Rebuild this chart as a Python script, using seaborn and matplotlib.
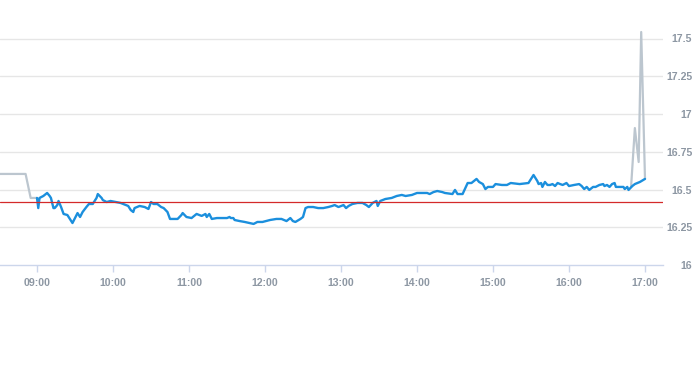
import matplotlib
matplotlib.use("Agg")
import matplotlib.pyplot as plt
import seaborn as sns
import pandas as pd
from matplotlib.ticker import FuncFormatter, FixedLocator

# ---- data ----
price_times = ["09:00", "09:01", "09:02", "09:05", "09:08", "09:10", "09:11", "09:13", "09:14", "09:16",
               "09:17", "09:19", "09:21", "09:24", "09:26", "09:28", "09:30", "09:32", "09:34", "09:36",
               "09:39", "09:41", "09:44", "09:47", "09:48", "09:51", "09:52", "09:55", "09:58", "10:06",
               "10:12", "10:14", "10:16", "10:17", "10:21", "10:25", "10:28", "10:30", "10:32", "10:35",
               "10:38", "10:40", "10:43", "10:45", "10:51", "10:54", "10:55", "10:58", "11:02", "11:06",
               "11:10", "11:13", "11:14", "11:16", "11:18", "11:22", "11:24", "11:30", "11:32", "11:33",
               "11:35", "11:36", "11:40", "11:44", "11:48", "11:51", "11:54", "11:58", "12:04", "12:09",
               "12:13", "12:17", "12:20", "12:22", "12:24", "12:28", "12:30", "12:32", "12:34", "12:38",
               "12:42", "12:46", "12:50", "12:53", "12:55", "12:58", "13:02", "13:04", "13:06", "13:09",
               "13:13", "13:17", "13:20", "13:22", "13:25", "13:28", "13:29", "13:31", "13:35", "13:40",
               "13:44", "13:48", "13:51", "13:56", "14:00", "14:05", "14:08", "14:10", "14:13", "14:16",
               "14:20", "14:22", "14:28", "14:30", "14:32", "14:36", "14:40", "14:43", "14:47", "14:49",
               "14:52", "14:54", "14:56", "15:00", "15:02", "15:07", "15:11", "15:14", "15:21", "15:28",
               "15:32", "15:33", "15:35", "15:36", "15:38", "15:39", "15:41", "15:43", "15:45", "15:47",
               "15:49", "15:51", "15:53", "15:55", "15:58", "16:00", "16:04", "16:08", "16:10", "16:12",
               "16:14", "16:16", "16:19", "16:21", "16:24", "16:27", "16:28", "16:30", "16:32", "16:34",
               "16:36", "16:37", "16:39", "16:43", "16:44", "16:46", "16:47", "16:50", "16:52", "16:56",
               "17:00"]
price_values = [16.444, 16.377, 16.444, 16.457, 16.477, 16.457, 16.444, 16.377, 16.377, 16.397,
                16.424, 16.384, 16.338, 16.331, 16.305, 16.278, 16.311, 16.344, 16.318, 16.351,
                16.384, 16.404, 16.404, 16.444, 16.470, 16.444, 16.430, 16.417, 16.424, 16.411,
                16.391, 16.364, 16.351, 16.377, 16.391, 16.384, 16.371, 16.417, 16.404, 16.404,
                16.384, 16.377, 16.351, 16.305, 16.305, 16.331, 16.344, 16.318, 16.311, 16.338,
                16.325, 16.338, 16.318, 16.338, 16.305, 16.311, 16.311, 16.311, 16.318, 16.311,
                16.311, 16.298, 16.291, 16.285, 16.278, 16.272, 16.285, 16.285, 16.298, 16.305,
                16.305, 16.291, 16.311, 16.291, 16.285, 16.305, 16.318, 16.377, 16.384, 16.384,
                16.377, 16.377, 16.384, 16.391, 16.397, 16.384, 16.397, 16.377, 16.391, 16.404,
                16.411, 16.411, 16.397, 16.384, 16.411, 16.424, 16.391, 16.424, 16.437, 16.444,
                16.457, 16.464, 16.457, 16.464, 16.477, 16.477, 16.477, 16.470, 16.483, 16.490,
                16.483, 16.477, 16.470, 16.497, 16.470, 16.470, 16.543, 16.543, 16.570, 16.550,
                16.536, 16.503, 16.517, 16.517, 16.536, 16.530, 16.530, 16.543, 16.536, 16.543,
                16.596, 16.583, 16.556, 16.536, 16.543, 16.517, 16.550, 16.530, 16.530, 16.536,
                16.523, 16.543, 16.536, 16.530, 16.543, 16.523, 16.530, 16.536, 16.523, 16.503,
                16.517, 16.497, 16.517, 16.517, 16.530, 16.536, 16.523, 16.530, 16.517, 16.536,
                16.543, 16.517, 16.517, 16.517, 16.503, 16.517, 16.497, 16.523, 16.536, 16.550,
                16.570]

pre_times = ["08:30", "08:51", "08:55", "09:00"]
pre_values = [16.603, 16.603, 16.444, 16.444]
post_times = ["16:49", "16:52", "16:55", "16:57", "17:00"]
post_values = [16.517, 16.907, 16.682, 17.543, 16.570]

reference_price = 16.42
hour_labels = ["09:00", "10:00", "11:00", "12:00", "13:00", "14:00", "15:00", "16:00", "17:00"]
y_ticks = [16, 16.25, 16.5, 16.75, 17, 17.25, 17.5]


def to_min(s):
    h, m = s.split(":")
    return int(h) * 60 + int(m)


main_df = pd.DataFrame({"t": [to_min(s) for s in price_times], "price": price_values})
ext_df = pd.DataFrame({
    "t": [to_min(s) for s in pre_times] + [to_min(s) for s in post_times],
    "price": pre_values + post_values,
    "seg": ["pre"] * len(pre_times) + ["post"] * len(post_times),
})

# ---- style ----
sns.set_theme(style="white")
plt.rcParams["font.family"] = ["Liberation Sans", "DejaVu Sans"]

fig = plt.figure(figsize=(6.93, 3.65), dpi=100)
ax = fig.add_axes([0.0, 1 - 265 / 365, 663 / 693, 265 / 365])

grid_c = "#e6e6e6"
for v in y_ticks[1:]:
    ax.axhline(v, color=grid_c, lw=1.0, zorder=0)

sns.lineplot(data=ext_df, x="t", y="price", units="seg", estimator=None, sort=False,
             color="#bcc6cf", lw=1.6, ax=ax, zorder=2)
sns.lineplot(data=main_df, x="t", y="price", estimator=None, sort=False,
             color="#1b8fdd", lw=1.7, ax=ax, zorder=3)
ax.axhline(reference_price, color="#d42a2a", lw=0.9, zorder=4)

x0 = to_min("09:00") - 37 * 60 / 76
x1 = to_min("09:00") + (663 - 37) * 60 / 76
ax.set_xlim(x0, x1)
ax.set_ylim(16, 16 + 265 / 151)

ax.xaxis.set_major_locator(FixedLocator([to_min(s) for s in hour_labels]))
ax.xaxis.set_major_formatter(FuncFormatter(lambda v, p: f"{int(v)//60:02d}:{int(v)%60:02d}"))
ax.yaxis.set_major_locator(FixedLocator(y_ticks))
ax.yaxis.set_major_formatter(FuncFormatter(lambda v, p: f"{v:g}"))
ax.yaxis.tick_right()

lab_c = "#8d97a3"
ax.tick_params(axis="x", direction="out", length=5, width=1, color="#ccd6eb",
               labelsize=7.6, labelcolor=lab_c, pad=4, bottom=True)
ax.tick_params(axis="y", length=0, labelsize=7.6, labelcolor=lab_c, pad=21, right=True, left=False)
for lab in ax.get_yticklabels():
    lab.set_horizontalalignment("right")
    lab.set_fontweight("bold")
for lab in ax.get_xticklabels():
    lab.set_fontweight("bold")

for s in ["top", "left", "right"]:
    ax.spines[s].set_visible(False)
ax.spines["bottom"].set_color("#ccd6eb")
ax.spines["bottom"].set_linewidth(1)

ax.set_xlabel("")
ax.set_ylabel("")
ax.grid(False)

fig.savefig("out.png", dpi=100)
